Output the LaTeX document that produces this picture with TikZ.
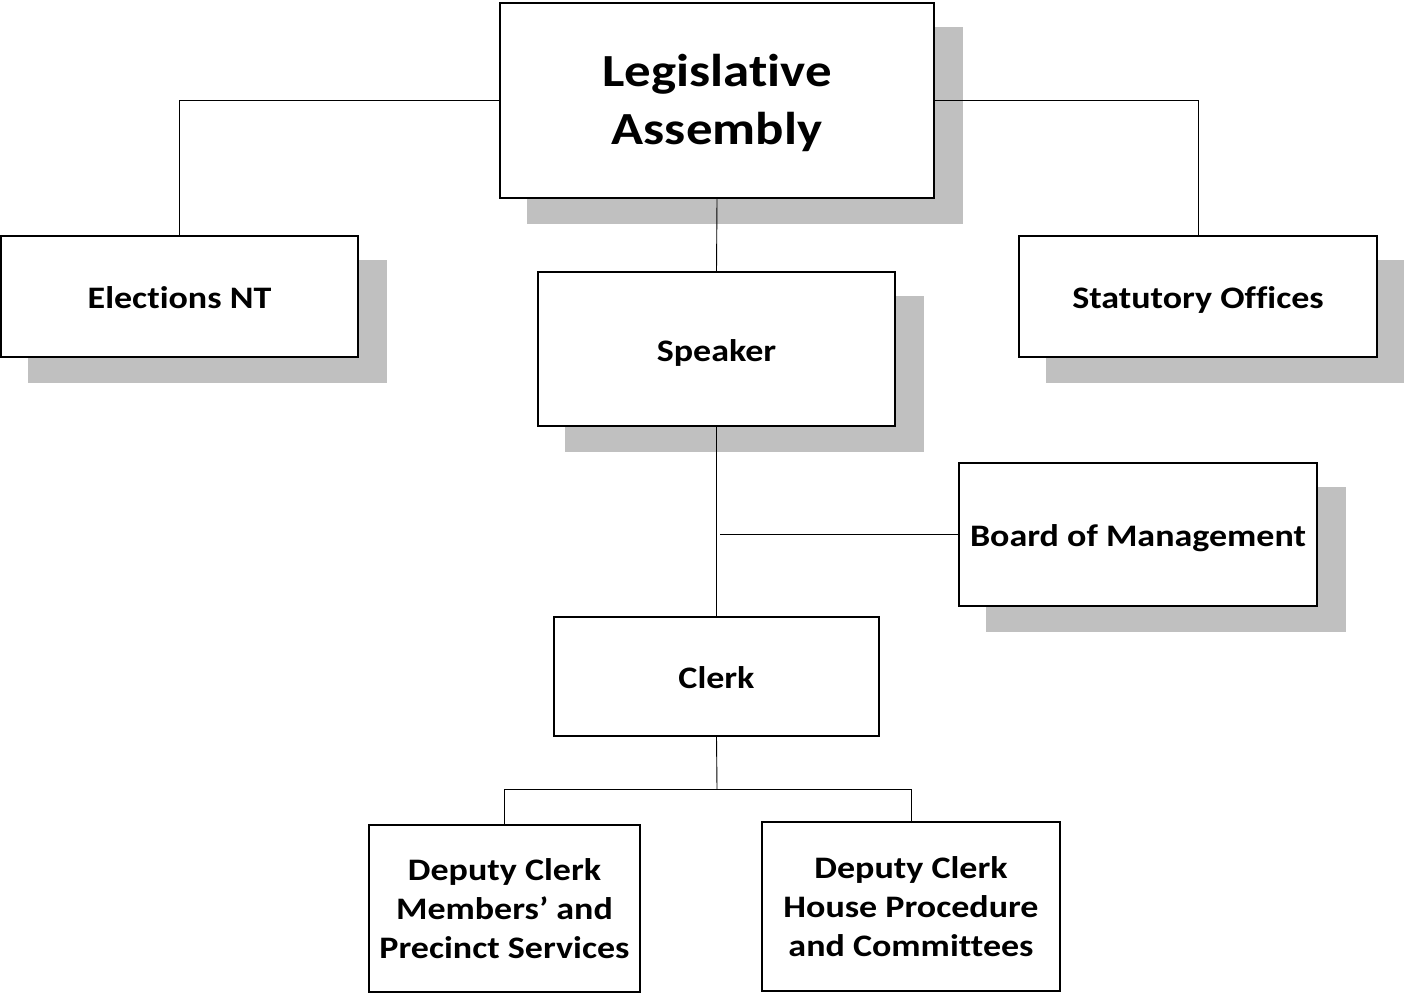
\documentclass[tikz,border=0pt]{standalone}
\usepackage{fontspec}
\setmainfont{Carlito}[FakeStretch=1.15, Ligatures=NoCommon]
\usetikzlibrary{backgrounds}
\definecolor{shadowgray}{RGB}{192,192,192}
\tikzset{
  orgbox/.style={draw=black, line width=1.8pt, fill=white, align=center, inner sep=0pt,
    font=\bfseries\fontsize{31.3}{39}\selectfont},
  oneline/.style={text height=24pt, text depth=0pt},
  bigbox/.style={draw=black, line width=1.8pt, fill=white, inner sep=0pt,
    font=\bfseries\fontsize{46}{58}\selectfont},
  link/.style={draw=black, line width=0.9pt},
}
\newcommand{\boxshadow}[1]{%
  \fill[shadowgray] ([xshift=28pt,yshift=-25pt]#1.north west) rectangle ([xshift=28pt,yshift=-25pt]#1.south east);}
\begin{document}
\begin{tikzpicture}[x=1pt,y=-1pt]
\useasboundingbox (0,0) rectangle (1404,994);
\node[bigbox, minimum width=434pt, minimum height=195pt] (la) at (717,100.5) {\raisebox{-3pt}[\height][\depth]{\begin{tabular}{@{}c@{}}Legislative\\Assembly\end{tabular}}};
\node[orgbox, oneline, minimum width=357pt, minimum height=121pt] (el) at (179.5,296.5) {Elections NT};
\node[orgbox, oneline, minimum width=358pt, minimum height=121pt] (so) at (1198,296.5) {Statutory Offices};
\node[orgbox, oneline, minimum width=357pt, minimum height=154pt] (sp) at (716.5,349) {Speaker};
\node[orgbox, oneline, minimum width=358pt, minimum height=143pt] (bm) at (1138,534.5) {Board of Management};
\node[orgbox, oneline, minimum width=325pt, minimum height=119pt] (cl) at (716.5,676.5) {Clerk};
\node[orgbox, minimum width=271pt, minimum height=167pt] (d1) at (504.5,908.5) {Deputy Clerk\\Members’ and\\Precinct Services};
\node[orgbox, minimum width=298pt, minimum height=169pt] (d2) at (911,906.5) {Deputy Clerk\\House Procedure\\and Committees};
\begin{scope}[on background layer]
\boxshadow{la}
\boxshadow{el}
\boxshadow{so}
\boxshadow{sp}
\boxshadow{bm}
\end{scope}
\coordinate (bmlink) at (720,534.5);
\coordinate (bus) at (717,789);
\draw[link] (la.west) -| (el.north);
\draw[link] (la.east) -| (so.north);
\draw[link] (la.south) -- (sp.north);
\draw[link] (sp.south) -- (cl.north);
\draw[link] (bmlink) -- (bm.west);
\draw[link] (cl.south) -- (bus);
\draw[link] (bus) -| (d1.north);
\draw[link] (bus) -| (d2.north);
\end{tikzpicture}
\end{document}
